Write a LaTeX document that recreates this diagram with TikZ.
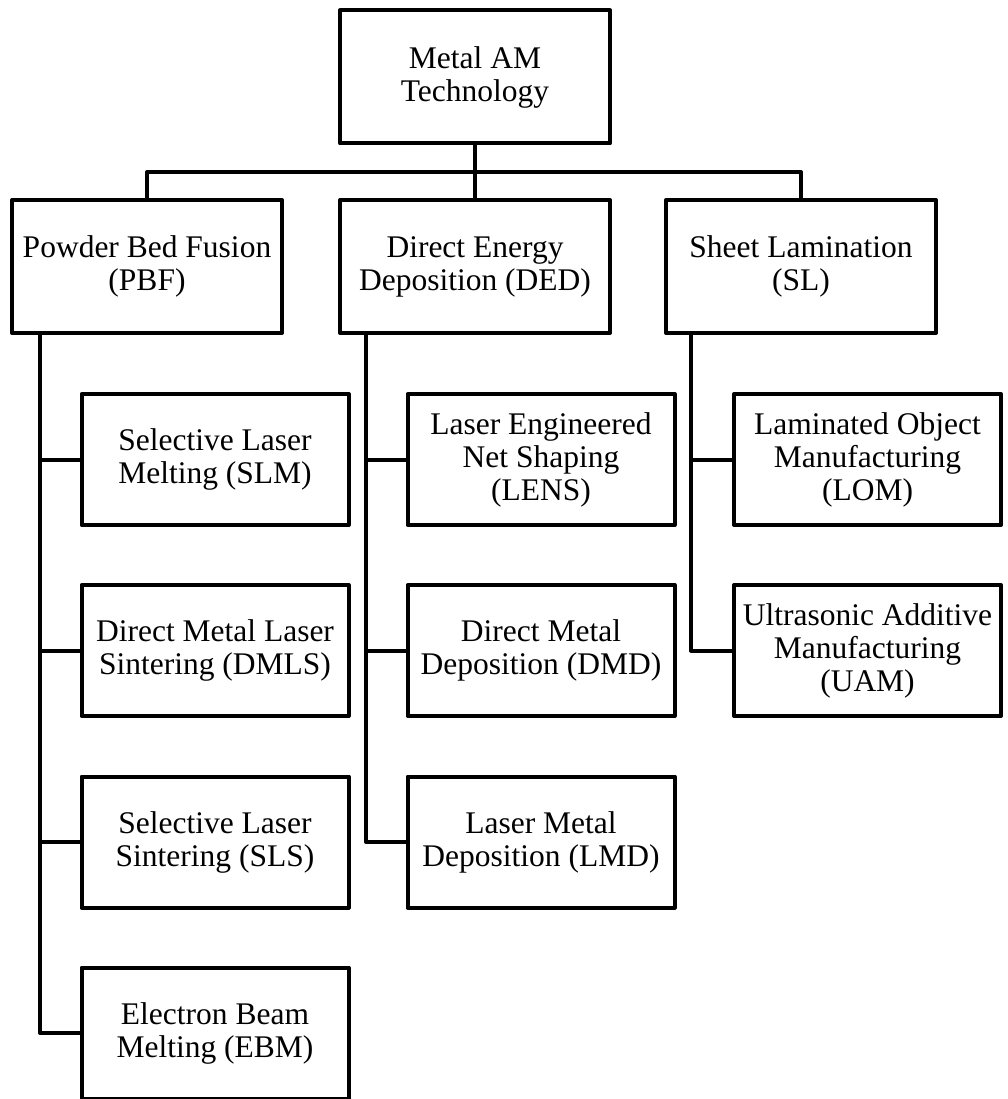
\documentclass[tikz,border=0pt]{standalone}
\usepackage{fontspec}
\setmainfont{Liberation Serif}
\begin{document}
\begin{tikzpicture}[x=1pt,y=-1pt,
  line width=4pt, line join=round,
  boxbase/.style={draw, rectangle, align=center, inner sep=0pt, outer sep=0pt,
    font=\fontsize{31.5}{33}\selectfont},
  mainbox/.style={boxbase, minimum width=270pt, minimum height=133pt},
  subbox/.style={boxbase, minimum width=267pt, minimum height=131pt}]
\useasboundingbox (0,0) rectangle (1008,1099);
\clip (0,0) rectangle (1008,1098);
% root
\node[mainbox] (top) at (475,77) {Metal AM\\Technology};
% level 2
\node[mainbox] (pbf) at (147,266.5) {Powder Bed Fusion\\(PBF)};
\node[mainbox] (ded) at (475,266.5) {Direct Energy\\Deposition (DED)};
\node[mainbox] (sl)  at (801,266.5) {Sheet Lamination\\(SL)};
% PBF children
\node[subbox] (slm)  at (215,459.5) {Selective Laser\\Melting (SLM)};
\node[subbox] (dmls) at (215,650.5) {Direct Metal Laser\\Sintering (DMLS)};
\node[subbox] (sls)  at (215,842)   {Selective Laser\\Sintering (SLS)};
\node[subbox] (ebm)  at (215,1033)  {Electron Beam\\Melting (EBM)};
% DED children
\node[subbox] (lens) at (541,459.5) {Laser Engineered\\Net Shaping\\(LENS)};
\node[subbox] (dmd)  at (541,650.5) {Direct Metal\\Deposition (DMD)};
\node[subbox] (lmd)  at (541,842)   {Laser Metal\\Deposition (LMD)};
% SL children
\node[subbox] (lom)  at (867.5,459.5) {Laminated Object\\Manufacturing\\(LOM)};
\node[subbox] (uam)  at (867.5,650.5) {Ultrasonic Additive\\Manufacturing\\(UAM)};
% bus
\coordinate (bus) at (475,172);
\draw (top.south) -- (ded.north);
\draw (pbf.north) -- (pbf.north |- bus) -- (sl.north |- bus) -- (sl.north);
% trunks
\coordinate (tp) at ([xshift=28pt]pbf.south west);
\coordinate (td) at ([xshift=26pt]ded.south west);
\coordinate (ts) at ([xshift=25pt]sl.south west);
\draw (tp) |- (slm.west);
\draw (tp) |- (dmls.west);
\draw (tp) |- (sls.west);
\draw (tp) |- (ebm.west);
\draw (td) |- (lens.west);
\draw (td) |- (dmd.west);
\draw (td) |- (lmd.west);
\draw (ts) |- (lom.west);
\draw (ts) |- (uam.west);
\end{tikzpicture}
\end{document}
